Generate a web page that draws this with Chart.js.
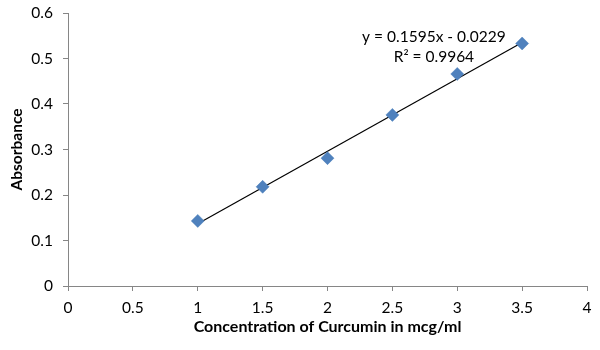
<!DOCTYPE html>
<html>
<head>
<meta charset="utf-8">
<script src="https://cdn.jsdelivr.net/npm/chart.js@4.4.0/dist/chart.umd.min.js"></script>
<style>
  html, body { margin: 0; padding: 0; background: #fff; }
  #wrap { width: 600px; height: 350px; position: relative; }
</style>
</head>
<body>
<div id="wrap"><canvas id="c"></canvas></div>
<script>
// ---- data ----
const concentrations = [1, 1.5, 2, 2.5, 3, 3.5];
const absorbance = [0.143, 0.218, 0.281, 0.376, 0.466, 0.533];
const xTicks = [0, 0.5, 1, 1.5, 2, 2.5, 3, 3.5, 4];
const yTicks = [0, 0.1, 0.2, 0.3, 0.4, 0.5, 0.6];
const equationText = "y = 0.1595x - 0.0229";
const r2Text = "R\u00B2 = 0.9964";
const xTitle = "Concentration of Curcumin in mcg/ml";
const yTitle = "Absorbance";

// least-squares trendline from the data
const n = concentrations.length;
const mx = concentrations.reduce((a, b) => a + b, 0) / n;
const my = absorbance.reduce((a, b) => a + b, 0) / n;
let sxy = 0, sxx = 0;
for (let i = 0; i < n; i++) {
  sxy += (concentrations[i] - mx) * (absorbance[i] - my);
  sxx += (concentrations[i] - mx) ** 2;
}
const slope = sxy / sxx;
const intercept = my - slope * mx;
const xMin = Math.min(...concentrations), xMax = Math.max(...concentrations);
const trend = [
  { x: xMin, y: slope * xMin + intercept },
  { x: xMax, y: slope * xMax + intercept }
];

const points = concentrations.map((x, i) => ({ x, y: absorbance[i] }));

const FONT = "Lato, 'Liberation Sans', sans-serif";
const AXIS_COLOR = '#868686';
const fmt = (v) => String(Math.round(v * 10) / 10);

const annotation = {
  id: 'annotation',
  afterDatasetsDraw(chart) {
    const { ctx, scales } = chart;
    const cx = scales.x.getPixelForValue(2.82);
    ctx.save();
    ctx.fillStyle = '#000';
    ctx.font = "15.5px " + FONT;
    ctx.textAlign = 'center';
    ctx.textBaseline = 'middle';
    ctx.fillText(equationText, cx, scales.y.getPixelForValue(0.547));
    ctx.fillText(r2Text, cx, scales.y.getPixelForValue(0.503));
    ctx.restore();
  }
};

new Chart(document.getElementById('c'), {
  type: 'scatter',
  data: {
    datasets: [
      {
        label: 'Trendline',
        type: 'line',
        data: trend,
        borderColor: '#000',
        borderWidth: 1.2,
        pointRadius: 0,
        fill: false,
        order: 2
      },
      {
        label: 'Absorbance',
        data: points,
        pointStyle: 'rectRot',
        pointRadius: 6.5,
        pointHoverRadius: 6.5,
        backgroundColor: '#4F81BD',
        borderColor: '#4A7EBB',
        borderWidth: 0.5,
        order: 1
      }
    ]
  },
  options: {
    responsive: true,
    maintainAspectRatio: false,
    animation: false,
    events: [],
    layout: { padding: { top: 13, right: 13, bottom: 0, left: 0 } },
    plugins: {
      legend: { display: false },
      tooltip: { enabled: false }
    },
    scales: {
      x: {
        type: 'linear',
        min: 0,
        max: 4,
        afterBuildTicks: (s) => { s.ticks = xTicks.map(v => ({ value: v })); },
        afterFit: (s) => { s.height = 64; s.paddingLeft = 0; s.paddingRight = 0; },
        grid: {
          display: true,
          drawOnChartArea: false,
          drawTicks: true,
          tickLength: 5,
          color: AXIS_COLOR
        },
        border: { display: true, color: AXIS_COLOR, width: 1 },
        ticks: {
          color: '#000',
          font: { family: FONT, size: 15.5 },
          padding: 8,
          maxRotation: 0,
          autoSkip: false,
          callback: fmt
        },
        title: {
          display: true,
          text: xTitle,
          color: '#000',
          font: { family: FONT, size: 16, weight: 'bold' },
          padding: { top: 0, bottom: 14 }
        }
      },
      y: {
        type: 'linear',
        min: 0,
        max: 0.6,
        afterBuildTicks: (s) => { s.ticks = yTicks.map(v => ({ value: v })); },
        afterFit: (s) => { s.width = 68; s.paddingTop = 0; s.paddingBottom = 0; },
        grid: {
          display: true,
          drawOnChartArea: false,
          drawTicks: true,
          tickLength: 5,
          color: AXIS_COLOR
        },
        border: { display: true, color: AXIS_COLOR, width: 1 },
        ticks: {
          color: '#000',
          font: { family: FONT, size: 15.5 },
          padding: 10,
          autoSkip: false,
          callback: fmt
        },
        title: {
          display: true,
          text: yTitle,
          color: '#000',
          font: { family: FONT, size: 15.5, weight: 'bold' },
          padding: { top: 8, bottom: 0 }
        }
      }
    }
  },
  plugins: [annotation]
});
</script>
</body>
</html>
